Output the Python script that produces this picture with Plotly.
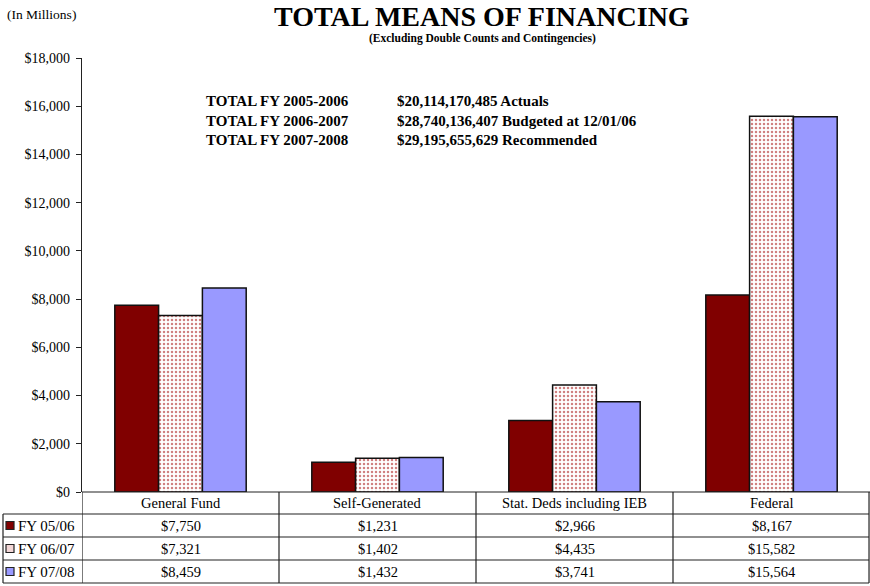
import plotly.graph_objects as go

categories = ["General Fund", "Self-Generated", "Stat. Deds including IEB", "Federal"]
series_names = ["FY 05/06", "FY 06/07", "FY 07/08"]
fy0506 = [7750, 1231, 2966, 8167]
fy0607 = [7321, 1402, 4435, 15582]
fy0708 = [8459, 1432, 3741, 15564]
totals_labels = ["TOTAL FY 2005-2006", "TOTAL FY 2006-2007", "TOTAL FY 2007-2008"]
totals_values = ["$20,114,170,485 Actuals", "$28,740,136,407 Budgeted at 12/01/06", "$29,195,655,629 Recommended"]
y_ticks = [0, 2000, 4000, 6000, 8000, 10000, 12000, 14000, 16000, 18000]

W, H = 870, 586
L, R, T, B = 82, 0, 58, 94
PW = W - L - R
PH = H - T - B
FONT = "Liberation Serif"

def px(x):
    return (x - L) / PW

def py(y):
    return (H - B - y) / PH

series = [fy0506, fy0607, fy0708]
colors = ["#800000", "white", "#9999FF"]

fig = go.Figure()
for i, (name, vals) in enumerate(zip(series_names, series)):
    marker = dict(color=colors[i], line=dict(color="#111111", width=1.5))
    if i == 1:
        marker["pattern"] = dict(shape=".", fgcolor="#a00000", bgcolor="white", size=4, solidity=0.3)
    fig.add_trace(go.Bar(x=list(range(len(categories))), y=vals, name=name, marker=marker,
                         showlegend=False, hoverinfo="y"))

shapes = []
line = dict(color="#222222", width=1.2)
# horizontal lines of the table
shapes.append(dict(type="line", xref="paper", yref="paper", x0=px(82), x1=px(870), y0=py(492), y1=py(492), line=line))
for yy in [514, 537, 560, 583]:
    shapes.append(dict(type="line", xref="paper", yref="paper", x0=px(3), x1=px(869), y0=py(yy), y1=py(yy), line=line))
# vertical lines
shapes.append(dict(type="line", xref="paper", yref="paper", x0=px(3), x1=px(3), y0=py(514), y1=py(583), line=line))
for k in range(len(categories) + 1):
    xd = min(k - 0.5, len(categories) - 0.505)
    shapes.append(dict(type="line", xref="x", yref="paper", x0=xd, x1=xd, y0=py(492), y1=py(583), line=line))

annotations = []
row_y = [525.5, 548.5, 571.5]
for j, cat in enumerate(categories):
    annotations.append(dict(x=j, y=py(503), xref="x", yref="paper", text=cat, showarrow=False,
                            font=dict(family=FONT, size=14.5, color="black"), xanchor="center", yanchor="middle"))
    for r, vals in enumerate(series):
        annotations.append(dict(x=j, y=py(row_y[r]), xref="x", yref="paper", text=f"${vals[j]:,}", showarrow=False,
                                font=dict(family=FONT, size=14.5, color="black"), xanchor="center", yanchor="middle"))

for r, name in enumerate(series_names):
    yc = row_y[r]
    shapes.append(dict(type="rect", xref="paper", yref="paper", x0=px(6), x1=px(14), y0=py(yc - 4), y1=py(yc + 4),
                       fillcolor=["#800000", "#f2d6d6", "#9999FF"][r], line=dict(color="#222222", width=1.2)))
    annotations.append(dict(x=px(16), y=py(yc), xref="paper", yref="paper", text=name, showarrow=False,
                            font=dict(family=FONT, size=15, color="black"), xanchor="left", yanchor="middle"))

# titles
annotations.append(dict(x=px(482), y=py(16), xref="paper", yref="paper", text="<b>TOTAL MEANS OF FINANCING</b>",
                        showarrow=False, font=dict(family=FONT, size=28, color="black"), xanchor="center", yanchor="middle"))
annotations.append(dict(x=px(482), y=py(39), xref="paper", yref="paper",
                        text="<b>(Excluding Double Counts and Contingencies)</b>",
                        showarrow=False, font=dict(family=FONT, size=11.5, color="black"), xanchor="center", yanchor="middle"))
annotations.append(dict(x=px(5), y=py(15), xref="paper", yref="paper", text="(In Millions)",
                        showarrow=False, font=dict(family=FONT, size=13.5, color="black"), xanchor="left", yanchor="middle"))
# totals block: one multi-line text per column
annotations.append(dict(x=px(204), y=py(120), xref="paper", yref="paper",
                        text="<br>".join(f"<b>{t}</b>" for t in totals_labels), align="left",
                        showarrow=False, font=dict(family=FONT, size=15, color="black"), xanchor="left", yanchor="middle"))
annotations.append(dict(x=px(395), y=py(120), xref="paper", yref="paper",
                        text="<br>".join(f"<b>{t}</b>" for t in totals_values), align="left",
                        showarrow=False, font=dict(family=FONT, size=15, color="black"), xanchor="left", yanchor="middle"))

fig.update_layout(
    width=W, height=H,
    margin=dict(l=L, r=R, t=T, b=B),
    paper_bgcolor="white", plot_bgcolor="white",
    barmode="group", bargap=0.333, bargroupgap=0,
    shapes=shapes, annotations=annotations,
    font=dict(family=FONT, size=13, color="black"),
    xaxis=dict(range=[-0.5, len(categories) - 0.5], showticklabels=False, showgrid=False, zeroline=False,
               showline=False, ticks="", fixedrange=True),
    yaxis=dict(range=[0, 18000], tickvals=y_ticks, ticktext=[f"${v:,}" for v in y_ticks],
               showgrid=False, zeroline=False, showline=True, linecolor="#222222", linewidth=1.2,
               ticks="outside", ticklen=5, tickcolor="#222222", ticklabelstandoff=3,
               tickfont=dict(family=FONT, size=14, color="black")),
)

fig.write_html("out.html", config={"displayModeBar": False},
               post_script="document.body.style.margin='0';document.body.style.overflow='hidden';")
